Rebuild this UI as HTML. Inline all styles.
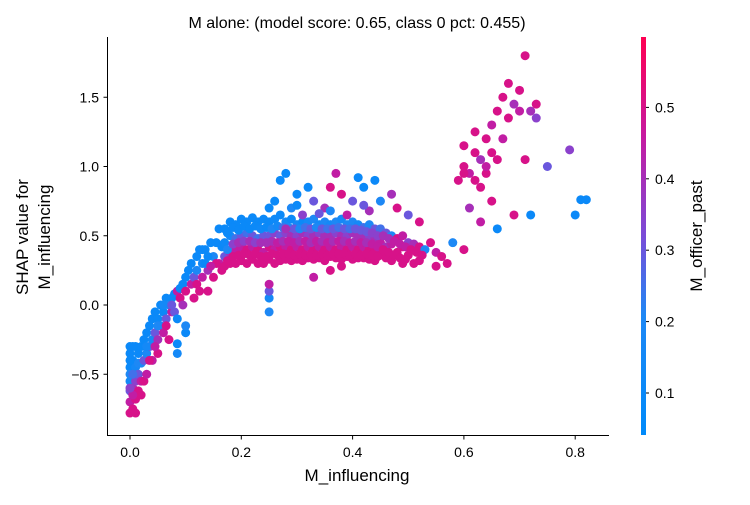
<!DOCTYPE html>
<html><head><meta charset="utf-8">
<style>
body{margin:0;background:#fff;}
svg text{font-family:"Liberation Sans","DejaVu Sans",sans-serif;fill:#000;}
</style></head>
<body>
<svg id="chart" width="750" height="500" viewBox="0 0 750 500" xmlns="http://www.w3.org/2000/svg">
<defs>
<linearGradient id="cbgrad" x1="0" y1="1" x2="0" y2="0">
<stop offset="0" stop-color="#008afa"/>
<stop offset="0.3" stop-color="#1e88f5"/>
<stop offset="0.5" stop-color="#7a4cd8"/>
<stop offset="0.75" stop-color="#c61aa0"/>
<stop offset="1" stop-color="#ff0052"/>
</linearGradient>
</defs>
<text x="357" y="28" font-size="16" text-anchor="middle">M alone: (model score: 0.65, class 0 pct: 0.455)</text>
<g id="points"></g>
<g id="axes"></g>
<text x="357" y="481" font-size="17" text-anchor="middle">M_influencing</text>
<text transform="translate(28,237) rotate(-90)" font-size="17" text-anchor="middle"><tspan x="0" dy="0">SHAP value for</tspan><tspan x="0" dy="22">M_influencing</tspan></text>
<rect x="641" y="37" width="5" height="398" fill="url(#cbgrad)"/>
<g id="cbaxis"></g>
<text transform="translate(702,236) rotate(-90)" font-size="17" text-anchor="middle">M_officer_past</text>
</svg>
<script>
const xTicks=[0.0,0.2,0.4,0.6,0.8];
const yTicks=[-0.5,0.0,0.5,1.0,1.5];
const cTicks=[0.1,0.2,0.3,0.4,0.5];
// each entry: [M_influencing, SHAP value, M_officer_past]
const lowPoints=[[0,-0.35,0.1],[0,-0.45,0.1],[0,-0.55,0.15],[0,-0.62,0.3],[0,-0.7,0.45],[0,-0.78,0.5],[0,-0.5,0.2],[0.005,-0.4,0.1],[0.005,-0.6,0.4],[0.005,-0.75,0.5],[0.01,-0.3,0.1],[0.01,-0.45,0.15],[0.01,-0.55,0.35],[0.01,-0.68,0.5],[0.015,-0.35,0.1],[0.015,-0.5,0.3],[0.015,-0.62,0.5],[0.02,-0.3,0.1],[0.02,-0.42,0.2],[0.02,-0.55,0.45],[0,-0.3,0.1],[0.005,-0.5,0.25],[0.01,-0.78,0.5],[0.02,-0.65,0.5],[0,-0.4,0.1],[0.005,-0.3,0.1],[0.005,-0.65,0.45],[0.015,-0.42,0.2],[0,-0.6,0.35]];
const risePoints=[[0.025,-0.25,0.1],[0.025,-0.4,0.3],[0.025,-0.55,0.5],[0.03,-0.2,0.1],[0.03,-0.35,0.2],[0.03,-0.5,0.45],[0.035,-0.15,0.1],[0.035,-0.3,0.3],[0.04,-0.1,0.1],[0.04,-0.25,0.15],[0.04,-0.4,0.45],[0.045,-0.2,0.3],[0.045,-0.05,0.1],[0.05,-0.1,0.1],[0.05,-0.25,0.4],[0.05,-0.35,0.5],[0.055,0,0.1],[0.055,-0.15,0.2],[0.06,-0.05,0.1],[0.06,-0.2,0.45],[0.065,0.05,0.1],[0.065,-0.1,0.3],[0.07,0,0.2],[0.07,-0.25,0.5],[0.075,0.05,0.1],[0.075,-0.05,0.45],[0.08,0.08,0.1],[0.08,-0.05,0.3],[0.085,0.1,0.45],[0.085,-0.1,0.1],[0.09,0.05,0.5],[0.09,0.12,0.1],[0.095,0.15,0.1],[0.095,0,0.4],[0.1,0.1,0.5],[0.1,0.2,0.1],[0.085,-0.28,0.1],[0.085,-0.35,0.15],[0.05,-0.15,0.2],[0.03,-0.3,0.15],[0.06,0.0,0.15],[0.035,-0.4,0.5],[0.045,-0.3,0.45],[0.065,-0.15,0.5],[0.075,0.0,0.3]];
const kneePoints=[[0.105,0.25,0.1],[0.11,0.15,0.45],[0.11,0.3,0.1],[0.115,0.05,0.5],[0.115,0.2,0.3],[0.12,0.35,0.1],[0.12,0.25,0.2],[0.125,0.1,0.5],[0.125,0.4,0.1],[0.13,0.3,0.15],[0.13,0.2,0.45],[0.135,0.4,0.1],[0.14,0.1,0.5],[0.14,0.25,0.4],[0.145,0.45,0.1],[0.15,0.35,0.2],[0.15,0.2,0.5],[0.155,0.45,0.1],[0.16,0.3,0.45],[0.16,0.55,0.1],[0.14,0.35,0.1],[0.13,0.4,0.1],[0.155,0.3,0.5],[0.12,0.15,0.5],[0.135,0.3,0.1],[0.145,0.28,0.45],[0.165,0.42,0.1],[0.165,0.25,0.5]];
const bandPoints=[
[0.17,0.55,0.1],[0.17,0.45,0.12],[0.17,0.35,0.3],[0.17,0.28,0.5],
[0.18,0.6,0.1],[0.18,0.5,0.15],[0.18,0.38,0.4],[0.18,0.3,0.5],
[0.19,0.58,0.1],[0.19,0.48,0.25],[0.19,0.4,0.45],[0.19,0.3,0.5],
[0.2,0.62,0.1],[0.2,0.5,0.3],[0.2,0.42,0.45],[0.2,0.32,0.5],
[0.21,0.6,0.1],[0.21,0.52,0.25],[0.21,0.4,0.5],[0.21,0.3,0.5],
[0.22,0.63,0.1],[0.22,0.5,0.3],[0.22,0.42,0.45],[0.22,0.33,0.5],
[0.23,0.6,0.1],[0.23,0.48,0.25],[0.23,0.4,0.5],[0.23,0.3,0.5],
[0.24,0.62,0.1],[0.24,0.5,0.3],[0.24,0.38,0.45],[0.24,0.3,0.5],
[0.25,0.6,0.1],[0.25,0.5,0.3],[0.25,0.42,0.5],[0.25,0.33,0.5],
[0.26,0.62,0.12],[0.26,0.52,0.35],[0.26,0.4,0.45],[0.26,0.3,0.5],
[0.27,0.65,0.1],[0.27,0.5,0.3],[0.27,0.42,0.5],[0.27,0.32,0.5],
[0.28,0.6,0.15],[0.28,0.52,0.35],[0.28,0.42,0.45],[0.28,0.33,0.5],
[0.29,0.62,0.1],[0.29,0.5,0.4],[0.29,0.4,0.5],[0.29,0.32,0.5],
[0.3,0.58,0.15],[0.3,0.5,0.35],[0.3,0.42,0.45],[0.3,0.33,0.5],
[0.31,0.6,0.1],[0.31,0.52,0.4],[0.31,0.4,0.5],[0.31,0.32,0.5],
[0.32,0.6,0.15],[0.32,0.5,0.35],[0.32,0.42,0.45],[0.32,0.34,0.5],
[0.33,0.62,0.2],[0.33,0.5,0.4],[0.33,0.4,0.5],[0.33,0.33,0.5],
[0.34,0.58,0.15],[0.34,0.52,0.35],[0.34,0.42,0.45],[0.34,0.34,0.5],
[0.35,0.6,0.2],[0.35,0.5,0.4],[0.35,0.4,0.5],[0.35,0.32,0.5],
[0.36,0.58,0.15],[0.36,0.5,0.4],[0.36,0.42,0.45],[0.36,0.35,0.5],
[0.37,0.6,0.2],[0.37,0.52,0.35],[0.37,0.4,0.5],[0.37,0.34,0.5],
[0.38,0.62,0.15],[0.38,0.5,0.4],[0.38,0.42,0.45],[0.38,0.33,0.5],
[0.39,0.58,0.2],[0.39,0.5,0.35],[0.39,0.4,0.5],[0.39,0.35,0.5],
[0.4,0.6,0.2],[0.4,0.52,0.4],[0.4,0.42,0.45],[0.4,0.33,0.5],
[0.41,0.58,0.15],[0.41,0.5,0.4],[0.41,0.4,0.5],[0.41,0.34,0.5],
[0.42,0.56,0.25],[0.42,0.5,0.4],[0.42,0.42,0.45],[0.42,0.34,0.5],
[0.43,0.58,0.2],[0.43,0.5,0.35],[0.43,0.4,0.5],[0.43,0.33,0.5],
[0.44,0.55,0.3],[0.44,0.48,0.4],[0.44,0.4,0.5],[0.44,0.32,0.5],
[0.45,0.55,0.25],[0.45,0.45,0.45],[0.45,0.36,0.5],
[0.46,0.52,0.3],[0.46,0.42,0.4],[0.46,0.34,0.5],
[0.47,0.5,0.2],[0.47,0.44,0.45],[0.47,0.32,0.5],
[0.48,0.48,0.5],[0.48,0.38,0.5],
[0.49,0.5,0.45],[0.49,0.42,0.5],[0.49,0.3,0.5],
[0.5,0.45,0.35],[0.5,0.36,0.5],
[0.51,0.44,0.4],[0.51,0.3,0.5],
[0.52,0.42,0.5],[0.52,0.32,0.5],
[0.53,0.4,0.2],[0.54,0.45,0.5],[0.55,0.28,0.5],[0.55,0.38,0.45],[0.56,0.35,0.5]];
const bandFill=[
[0.175,0.52,0.1],[0.175,0.4,0.2],[0.175,0.32,0.5],[0.185,0.56,0.1],[0.185,0.44,0.35],[0.185,0.35,0.5],
[0.195,0.54,0.1],[0.195,0.45,0.4],[0.195,0.36,0.5],[0.205,0.57,0.1],[0.205,0.46,0.35],[0.205,0.37,0.5],
[0.215,0.55,0.1],[0.215,0.46,0.4],[0.215,0.36,0.5],[0.225,0.57,0.1],[0.225,0.45,0.35],[0.225,0.37,0.5],
[0.235,0.55,0.12],[0.235,0.45,0.4],[0.235,0.35,0.5],[0.245,0.56,0.1],[0.245,0.45,0.4],[0.245,0.35,0.5],
[0.255,0.55,0.2],[0.255,0.46,0.4],[0.255,0.37,0.5],[0.265,0.57,0.15],[0.265,0.45,0.45],[0.265,0.36,0.5],
[0.275,0.56,0.25],[0.275,0.46,0.4],[0.275,0.37,0.5],[0.285,0.56,0.2],[0.285,0.46,0.45],[0.285,0.37,0.5],
[0.295,0.55,0.3],[0.295,0.45,0.45],[0.295,0.36,0.5],[0.305,0.55,0.2],[0.305,0.46,0.4],[0.305,0.37,0.5],
[0.315,0.56,0.25],[0.315,0.46,0.45],[0.315,0.36,0.5],[0.325,0.55,0.3],[0.325,0.45,0.4],[0.325,0.37,0.5],
[0.335,0.56,0.2],[0.335,0.46,0.45],[0.335,0.36,0.5],[0.345,0.55,0.3],[0.345,0.46,0.4],[0.345,0.37,0.5],
[0.355,0.55,0.25],[0.355,0.45,0.45],[0.355,0.36,0.5],[0.365,0.55,0.3],[0.365,0.46,0.4],[0.365,0.37,0.5],
[0.375,0.56,0.25],[0.375,0.46,0.45],[0.375,0.37,0.5],[0.385,0.55,0.3],[0.385,0.46,0.4],[0.385,0.37,0.5],
[0.395,0.55,0.25],[0.395,0.45,0.45],[0.395,0.36,0.5],[0.405,0.55,0.3],[0.405,0.46,0.4],[0.405,0.37,0.5],
[0.415,0.54,0.3],[0.415,0.45,0.45],[0.415,0.36,0.5],[0.425,0.53,0.3],[0.425,0.45,0.4],[0.425,0.37,0.5],
[0.435,0.52,0.35],[0.435,0.44,0.45],[0.435,0.36,0.5],[0.445,0.5,0.35],[0.445,0.42,0.45],[0.445,0.35,0.5],
[0.455,0.5,0.4],[0.455,0.4,0.5],[0.465,0.48,0.4],[0.465,0.38,0.5],[0.475,0.46,0.45],[0.475,0.36,0.5],
[0.485,0.44,0.45],[0.485,0.34,0.5],[0.495,0.42,0.45],[0.495,0.33,0.5],[0.505,0.4,0.5],[0.515,0.38,0.5],[0.525,0.36,0.5]];
const upperPoints=[[0.26,0.75,0.1],[0.27,0.9,0.1],[0.28,0.95,0.1],[0.3,0.8,0.1],[0.29,0.7,0.2],[0.32,0.85,0.1],[0.33,0.75,0.3],[0.35,0.7,0.4],[0.36,0.85,0.5],[0.37,0.95,0.45],[0.38,0.8,0.5],[0.4,0.75,0.3],[0.42,0.85,0.1],[0.44,0.9,0.1],[0.45,0.75,0.2],[0.41,0.92,0.1],[0.31,0.65,0.35],[0.34,0.66,0.3],[0.39,0.65,0.45],[0.43,0.68,0.4],[0.47,0.8,0.4],[0.48,0.7,0.5],[0.5,0.65,0.3],[0.52,0.6,0.5],[0.28,0.55,0.4],[0.25,0.7,0.1],[0.3,0.72,0.1],[0.36,0.68,0.2],[0.42,0.72,0.3]];
const outlierPoints=[[0.25,-0.05,0.2],[0.25,0.05,0.15],[0.25,0.1,0.3],[0.25,0.15,0.45],[0.1,-0.2,0.1],[0.1,-0.15,0.2],[0.33,0.2,0.45],[0.36,0.25,0.5],[0.38,0.28,0.5]];
const tailPoints=[[0.59,0.9,0.5],[0.6,1.0,0.5],[0.6,1.15,0.5],[0.61,0.95,0.45],[0.61,0.7,0.4],[0.62,1.1,0.5],[0.62,1.25,0.5],[0.63,0.85,0.5],[0.63,1.05,0.4],[0.64,1.2,0.5],[0.64,0.95,0.5],[0.65,1.1,0.5],[0.65,1.3,0.45],[0.65,0.75,0.5],[0.66,1.4,0.5],[0.66,1.05,0.5],[0.67,1.2,0.45],[0.67,1.5,0.5],[0.68,1.35,0.5],[0.68,1.6,0.5],[0.69,1.45,0.4],[0.69,0.65,0.5],[0.7,1.4,0.45],[0.7,1.55,0.5],[0.71,1.8,0.5],[0.71,1.05,0.5],[0.72,1.4,0.4],[0.72,0.65,0.1],[0.73,1.45,0.5],[0.73,1.35,0.35],[0.75,1.0,0.3],[0.79,1.12,0.35],[0.8,0.65,0.1],[0.81,0.76,0.1],[0.82,0.76,0.1],[0.66,0.55,0.1],[0.63,0.6,0.45],[0.58,0.45,0.2],[0.6,0.4,0.5],[0.57,0.3,0.5],[0.62,0.9,0.5],[0.64,1.0,0.45],[0.6,0.95,0.5]];

const NS='http://www.w3.org/2000/svg';
const xScale=v=>130+v*556.5;
const yScale=v=>305-v*138.5;
const cScale=v=>393-(v-0.1)*714;
const cMin=0.041,cMax=0.598;
function colorOf(c){
  let t=(c-cMin)/(cMax-cMin);t=Math.max(0,Math.min(1,t));
  const stops=[[0,[0,138,250]],[0.3,[30,136,245]],[0.5,[122,76,216]],[0.75,[198,26,160]],[1,[255,0,82]]];
  for(let i=1;i<stops.length;i++){if(t<=stops[i][0]){const a=stops[i-1],b=stops[i];const f=(t-a[0])/(b[0]-a[0]);
    const rgb=a[1].map((v,k)=>Math.round(v+(b[1][k]-v)*f));return 'rgb('+rgb.join(',')+')';}}
  return 'rgb(255,0,82)';
}
const pg=document.getElementById('points');
const allGroups=[lowPoints,risePoints,kneePoints,bandPoints,bandFill,upperPoints,outlierPoints,tailPoints];
allGroups.forEach(group=>group.forEach(p=>{
  const c=document.createElementNS(NS,'circle');
  c.setAttribute('cx',xScale(p[0]));c.setAttribute('cy',yScale(p[1]));
  c.setAttribute('r',4.5);c.setAttribute('fill',colorOf(p[2]));
  
  
  pg.appendChild(c);
}));
const ax=document.getElementById('axes');
function line(g,x1,y1,x2,y2,name){const l=document.createElementNS(NS,'line');
  l.setAttribute('x1',x1);l.setAttribute('y1',y1);l.setAttribute('x2',x2);l.setAttribute('y2',y2);
  l.setAttribute('stroke','#000');l.setAttribute('stroke-width','1');
  
  
  g.appendChild(l);}
function text(g,x,y,s,anchor,name){const t=document.createElementNS(NS,'text');
  t.setAttribute('x',x);t.setAttribute('y',y);t.setAttribute('font-size','14');t.setAttribute('text-anchor',anchor);
  t.setAttribute('fill','#333');t.textContent=s;
  
  
  g.appendChild(t);}
line(ax,107.5,37,107.5,435.5,'y-axis-line');
line(ax,107,435.5,609,435.5,'x-axis-line');
xTicks.forEach(v=>{const x=xScale(v);line(ax,x,435.5,x,439.5,'x-tick');text(ax,x,457,v.toFixed(1),'middle','x-tick-label');});
yTicks.forEach(v=>{const y=yScale(v);line(ax,103.5,y,107.5,y,'y-tick');text(ax,99,y+5,v.toFixed(1).replace('-','\u2212'),'end','y-tick-label');});
const cb=document.getElementById('cbaxis');
cTicks.forEach(v=>{const y=cScale(v);line(cb,646,y,649,y,'colorbar-tick');text(cb,655,y+5,v.toFixed(1),'start','colorbar-tick-label');});
</script>
</body></html>
